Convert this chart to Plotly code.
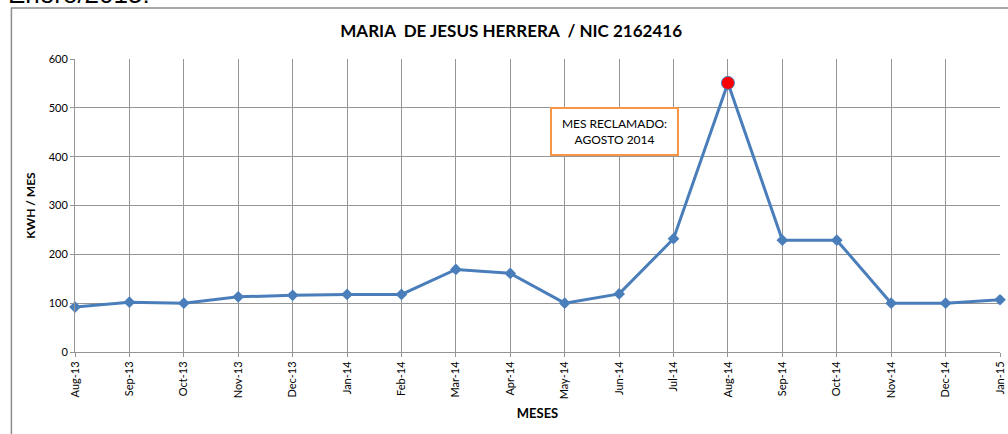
import plotly.graph_objects as go

months = ["Aug-13", "Sep-13", "Oct-13", "Nov-13", "Dec-13", "Jan-14", "Feb-14", "Mar-14",
          "Apr-14", "May-14", "Jun-14", "Jul-14", "Aug-14", "Sep-14", "Oct-14", "Nov-14",
          "Dec-14", "Jan-15"]
kwh = [92, 102, 100, 113, 116, 118, 118, 169, 161, 100, 119, 232, 551, 229, 229, 100, 100, 107]
claimed_month = "Aug-14"
claimed_value = kwh[months.index(claimed_month)]
y_ticks = [0, 100, 200, 300, 400, 500, 600]

title_text = "<b>MARIA\u00a0 DE JESUS HERRERA\u00a0 / NIC 2162416</b>"
note_text = "MES RECLAMADO:<br>AGOSTO 2014"

FONT = "Lato, Carlito, sans-serif"
BLUE = "#4A7EBB"
GRID = "#959595"

fig = go.Figure()
fig.add_trace(go.Scatter(
    x=months, y=kwh, mode="lines+markers",
    line=dict(color=BLUE, width=3),
    marker=dict(symbol="diamond", size=9, color=BLUE),
    cliponaxis=False, showlegend=False, hoverinfo="x+y",
))
fig.add_trace(go.Scatter(
    x=[claimed_month], y=[claimed_value], mode="markers",
    marker=dict(symbol="circle", size=13, color="#FF0000", line=dict(color=BLUE, width=1)),
    cliponaxis=False, showlegend=False,
))

fig.update_layout(
    width=1008, height=434,
    margin=dict(l=75, r=2, t=59, b=82),
    paper_bgcolor="white", plot_bgcolor="white",
    font=dict(family=FONT, color="#000000", size=11),
    title=dict(text=title_text, x=(514 - 75) / 931, xref="paper", xanchor="center",
               y=1 - 31 / 434, yref="container", yanchor="middle",
               font=dict(family=FONT, size=17, color="#000000")),
)

fig.update_xaxes(
    type="category", categoryorder="array", categoryarray=months,
    range=[0, len(months) - 1],
    showgrid=True, gridcolor=GRID, gridwidth=1,
    showline=True, linecolor=GRID, linewidth=1,
    ticks="outside", ticklen=4, tickcolor=GRID,
    tickangle=-90, tickfont=dict(family=FONT, size=11),
    title=dict(text="<b>MESES</b>", font=dict(family=FONT, size=13), standoff=10),
    zeroline=False, mirror=False,
)
fig.update_yaxes(
    range=[0, 600], tickvals=y_ticks,
    showgrid=True, gridcolor=GRID, gridwidth=1,
    showline=True, linecolor=GRID, linewidth=1,
    ticks="outside", ticklen=4, tickcolor=GRID,
    tickfont=dict(family=FONT, size=11),
    title=dict(text="<b>KWH / MES</b>", font=dict(family=FONT, size=12), standoff=10),
    zeroline=False,
)

# outer chart frame (partly off-page, as in the reference crop)
fig.add_shape(type="rect", xref="paper", yref="paper",
              x0=(11 - 75) / 931, x1=1.05, y0=-0.5, y1=(352 - 8) / 293,
              line=dict(color="#8c8c8c", width=1.5), fillcolor="rgba(0,0,0,0)", layer="below")

# callout box
fig.add_annotation(
    x=(617.5 - 75) / 931, y=(352 - 106.5) / 293, xref="paper", yref="paper",
    text=note_text, showarrow=False, align="center",
    font=dict(family=FONT, size=12, color="#000000"),
    bordercolor="#F79646", borderwidth=2, borderpad=6, bgcolor="white",
    width=113, height=33,
)

# cut-off heading above the chart
fig.add_annotation(
    x=(6 - 75) / 931, y=(352 - 11) / 293, xref="paper", yref="paper",
    xanchor="left", yanchor="bottom", showarrow=False,
    text="Enero/2015:", font=dict(family="Liberation Sans, Arial, sans-serif", size=26, color="#000000"),
)

fig.write_html("out.html",
               config={"displayModeBar": False},
               post_script="document.body.style.margin='0';document.body.style.padding='0';"
                           "document.body.style.overflow='hidden';")
